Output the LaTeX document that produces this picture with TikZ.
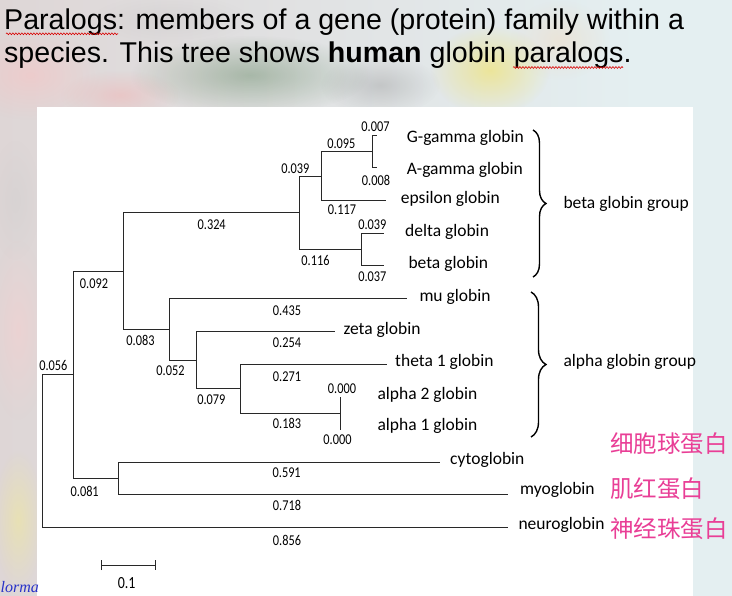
\documentclass[tikz,border=0pt]{standalone}
\usepackage{graphicx}
\usepackage{fontspec}
\setmainfont{Carlito}
\newfontfamily\titlefont{Liberation Sans}
\newfontfamily\wmfont{Liberation Serif}
\newfontfamily\cjk{Noto Sans CJK SC}
\usetikzlibrary{arrows.meta,decorations.pathreplacing,decorations.pathmorphing,fadings}

\definecolor{bgblue}{RGB}{228,239,241}
\definecolor{bgwarm}{RGB}{222,214,214}
\definecolor{treegray}{RGB}{40,40,40}
\definecolor{zhpink}{RGB}{233,62,150}
\definecolor{wmblue}{RGB}{40,50,200}

\tikzfading[name=blob, inner color=transparent!0, outer color=transparent!100]

\newcommand{\blnum}[1]{\scalebox{0.82}[1]{#1}}

\tikzset{
  branch/.style={draw=treegray, line width=0.9pt},
  leaf/.style={anchor=mid west, inner sep=0pt, font=\fontsize{17.5}{20}\selectfont},
  blen/.style={inner sep=0pt, font=\fontsize{15}{17}\selectfont},
  grpbrace/.style={draw=black, line width=1.4pt, decorate},
  zh/.style={anchor=west, inner sep=0pt, text=zhpink, font=\cjk\fontsize{23.5}{26}\selectfont},
  titleline/.style={anchor=base west, inner sep=0pt, font=\titlefont\fontsize{28.6}{34}\selectfont},
  squig/.style={draw=red!85!black, line width=0.6pt, decorate,
    decoration={snake, amplitude=0.9pt, segment length=3pt}},
}

\begin{document}
\begin{tikzpicture}[x=1pt, y=-1pt]
  \useasboundingbox (0,0) rectangle (732,596);
  \clip (0,0) rectangle (732,596);

  % slide background
  \fill[bgblue] (0,0) rectangle (732,596);
  \shade[left color=bgwarm, right color=bgblue] (0,0) rectangle (640,596);
  \foreach \cx/\cy/\rx/\ry/\col/\op in {
      30/75/70/45/pink/0.45, 120/95/60/25/red!40/0.3,
      250/75/120/40/green!25!black/0.25, 380/85/60/30/black!70/0.2,
      490/70/60/45/yellow!80!orange/0.35, 560/40/50/40/orange!40/0.25,
      170/20/80/25/black!30/0.2, 18/330/30/90/pink!80/0.4,
      18/520/25/70/yellow!60/0.3, 15/200/25/60/gray!40/0.35}
    \fill[\col, opacity=\op, path fading=blob] (\cx,\cy) ellipse ({\rx} and {\ry});

  % white panel of the tree
  \fill[white] (36.7,107) rectangle (692.7,600);

  % heading
  \node[titleline] (title1) at (4,29.3)
    {Paralogs: members of a gene (protein) family within a};
  \node[titleline] (title2) at (4,62.3)
    {species. This tree shows \textbf{human} globin paralogs.};
  \draw[squig] (6,33.8) -- (118,33.8);
  \draw[squig] (513,67.5) -- (623,67.5);

  % inner nodes of the tree
  \coordinate (root) at (42.7,450.7);
  \coordinate (nA) at (73.3,374.5);
  \coordinate (nB) at (123.3,271.3);
  \coordinate (nC) at (118.3,478.2);
  \coordinate (nD) at (299.3,212.5);
  \coordinate (nE) at (321.7,176);
  \coordinate (nF) at (372.3,151.2);
  \coordinate (nG) at (361.7,249.5);
  \coordinate (nH) at (169,329.2);
  \coordinate (nI) at (196.7,360);
  \coordinate (nJ) at (240,388.8);
  \coordinate (nK) at (340,413.3);

  % tips of the branches
  \foreach \nm/\x/\y in {tgg/377/135, tag/377/167.3, teps/386/200,
      tdel/384/233.3, tbet/384/265.7, tmu/406.7/298.3, tzet/335/331.7,
      tthe/386.7/364.3, tal2/340/396.7, tal1/340/430, tcyt/440/462.3,
      tmyo/508/494, tneu/508/527}
    \coordinate (\nm) at (\x,\y);

  \foreach \p/\c in {root/nA, root/tneu, nA/nB, nA/nC, nB/nD, nB/nH,
      nD/nE, nD/nG, nE/nF, nE/teps, nF/tgg, nF/tag, nG/tdel, nG/tbet,
      nH/tmu, nH/nI, nI/tzet, nI/nJ, nJ/tthe, nJ/nK, nK/tal2, nK/tal1,
      nC/tcyt, nC/tmyo}
    \draw[branch] (\p) |- (\c);

  % names of the globins
  \foreach \nm/\x/\y/\txt in {
      ggamma/406.7/140/G-gamma globin, agamma/406.7/171.7/A-gamma globin,
      epsilon/400.7/201/epsilon globin, delta/405/234/delta globin,
      beta/408.3/266/beta globin, mu/419.3/299/mu globin,
      zeta/343.3/332.5/zeta globin, theta/395/364/theta 1 globin,
      alphatwo/377.3/397/alpha 2 globin, alphaone/377.3/428.5/alpha 1 globin,
      cyto/450/461.7/cytoglobin, myo/520/492.5/myoglobin,
      neuro/518.3/526.7/neuroglobin}
    \node[leaf] (\nm) at (\x,\y) {\txt};

  % branch lengths
  \foreach \nm/\x/\y/\val in {
      lgg/375.5/126.7/0.007, lag/376/180/0.008, lF/341.3/143.3/0.095,
      lE/295.3/169/0.039, leps/342/209.3/0.117, lD/211.7/225/0.324,
      lG/315.5/260.7/0.116, ldel/372.3/225/0.039, lbet/372.3/276.7/0.037,
      lB/94/283.3/0.092, lmu/287/310.7/0.435, lH/140.5/340/0.083,
      lzet/287/342.3/0.254, lA/53.3/365/0.056, lI/170.5/370.7/0.052,
      lthe/287/376.7/0.271, lJ/211.3/399.3/0.079, lal2/342/388.3/0.000,
      lK/287/423.3/0.183, lal1/337.5/440/0.000, lcyt/286.7/472.7/0.591,
      lC/84.7/491.7/0.081, lmyo/287/505/0.718, lneu/287/540/0.856}
    \node[blen] (\nm) at (\x,\y) {\blnum{\val}};

  % the two groups
  \draw[grpbrace, decoration={brace, amplitude=13pt}] (533,130) -- (533,277);
  \draw[grpbrace, decoration={brace, amplitude=15pt}] (531,292) -- (531,437);
  \node[leaf] (betagrp) at (563.3,206) {beta globin group};
  \node[leaf] (alphagrp) at (563.3,364) {alpha globin group};

  % Chinese names
  \node[zh] (zhcyto) at (610,444) {细胞球蛋白};
  \node[zh] (zhmyo) at (610,488.3) {肌红蛋白};
  \node[zh] (zhneuro) at (610,528.3) {神经珠蛋白};

  % scale bar
  \coordinate (sbl) at (101,565);
  \coordinate (sbr) at (155.7,565);
  \draw[branch, {Bar[width=10pt]}-{Bar[width=10pt]}] (sbl) -- (sbr);
  \node[blen, font=\fontsize{17}{19}\selectfont] (sblab) at (126.7,583.3) {\blnum{0.1}};

  \node[anchor=base west, inner sep=0pt, text=wmblue,
    font=\wmfont\itshape\fontsize{16}{18}\selectfont] (mark) at (0.5,592) {lorma};
\end{tikzpicture}
\end{document}
